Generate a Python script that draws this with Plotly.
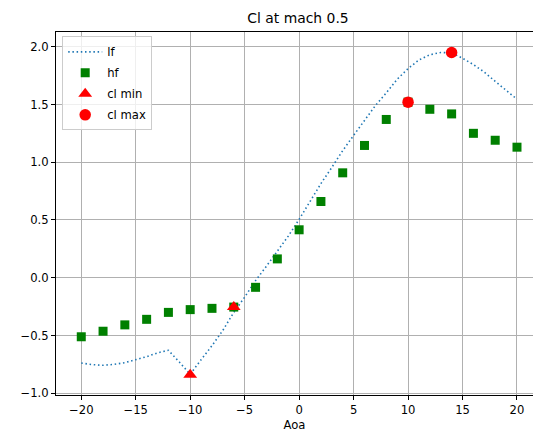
import plotly.graph_objects as go

# ---- data ----
aoa_lf = list(range(-20, 21))
cl_lf = [-0.738, -0.752, -0.758, -0.750, -0.735, -0.712, -0.683, -0.650, -0.628, -0.73,
         -0.835, -0.71, -0.588, -0.455, -0.30, -0.168, -0.025, 0.10, 0.225, 0.36,
         0.505, 0.66, 0.815, 0.955, 1.10, 1.232, 1.363, 1.49, 1.60, 1.718,
         1.81, 1.885, 1.93, 1.95, 1.946, 1.90, 1.845, 1.78, 1.70, 1.62, 1.545]

aoa_hf = list(range(-20, 21, 2))
cl_hf = [-0.511, -0.463, -0.408, -0.36, -0.30, -0.276, -0.265, -0.254, -0.083, 0.163,
         0.415, 0.66, 0.908, 1.145, 1.37, 1.52, 1.458, 1.418, 1.25, 1.19, 1.13]

aoa_clmin = [-10, -6]
cl_min = [-0.84, -0.254]
aoa_clmax = [10, 14]
cl_max = [1.52, 1.95]

x_ticks = [-20, -15, -10, -5, 0, 5, 10, 15, 20]
y_ticks = [-1.0, -0.5, 0.0, 0.5, 1.0, 1.5, 2.0]

FONT = "DejaVu Sans"

fig = go.Figure()
fig.add_trace(go.Scatter(x=aoa_lf, y=cl_lf, mode="lines", name="lf",
                         line=dict(color="#1f77b4", width=1.6, dash="1.5px,2.7px"),
                         legendgroup="a"))
fig.add_trace(go.Scatter(x=aoa_hf, y=cl_hf, mode="markers", name="hf",
                         marker=dict(symbol="square", size=9, color="green"),
                         legendgroup="b"))
fig.add_trace(go.Scatter(x=aoa_clmin, y=cl_min, mode="markers", name="cl min",
                         marker=dict(symbol="triangle-up", size=12, color="red"),
                         legendgroup="c"))
fig.add_trace(go.Scatter(x=aoa_clmax, y=cl_max, mode="markers", name="cl max",
                         marker=dict(symbol="circle", size=11.5, color="red"),
                         legendgroup="d"))

fig.update_layout(
    width=533, height=437,
    margin=dict(l=56, r=0, t=32, b=42),
    paper_bgcolor="white", plot_bgcolor="white",
    font=dict(family=FONT, size=11.6, color="black"),
    title=dict(text="Cl at mach 0.5", font=dict(family=FONT, size=13.9, color="black"),
               x=298 / 533, xref="container", xanchor="center",
               y=1 - 18 / 437, yref="container", yanchor="middle"),
    showlegend=True,
    legend=dict(x=0.013, y=0.988, xanchor="left", yanchor="top",
                bgcolor="rgba(255,255,255,0.8)", bordercolor="#cccccc", borderwidth=1,
                font=dict(family=FONT, size=11.6, color="black"),
                tracegroupgap=2, itemwidth=34),
    xaxis=dict(range=[-22.32, 21.47], tickvals=x_ticks, ticks="outside", ticklen=4,
               tickwidth=1, tickcolor="black", showline=True, linecolor="black",
               linewidth=1, mirror=True, showgrid=True, gridcolor="#b0b0b0",
               gridwidth=1, zeroline=False,
               title=dict(text="Aoa", font=dict(family=FONT, size=11.6), standoff=4)),
    yaxis=dict(range=[-1.015, 2.127], tickvals=y_ticks, tickformat=".1f",
               ticks="outside", ticklen=4, tickwidth=1, tickcolor="black",
               showline=True, linecolor="black", linewidth=1, mirror=False,
               showgrid=True, gridcolor="#b0b0b0", gridwidth=1, zeroline=False),
)

fig.write_html("out.html", config={"displayModeBar": False},
               post_script="document.body.style.margin='0';document.body.style.overflow='hidden';")
